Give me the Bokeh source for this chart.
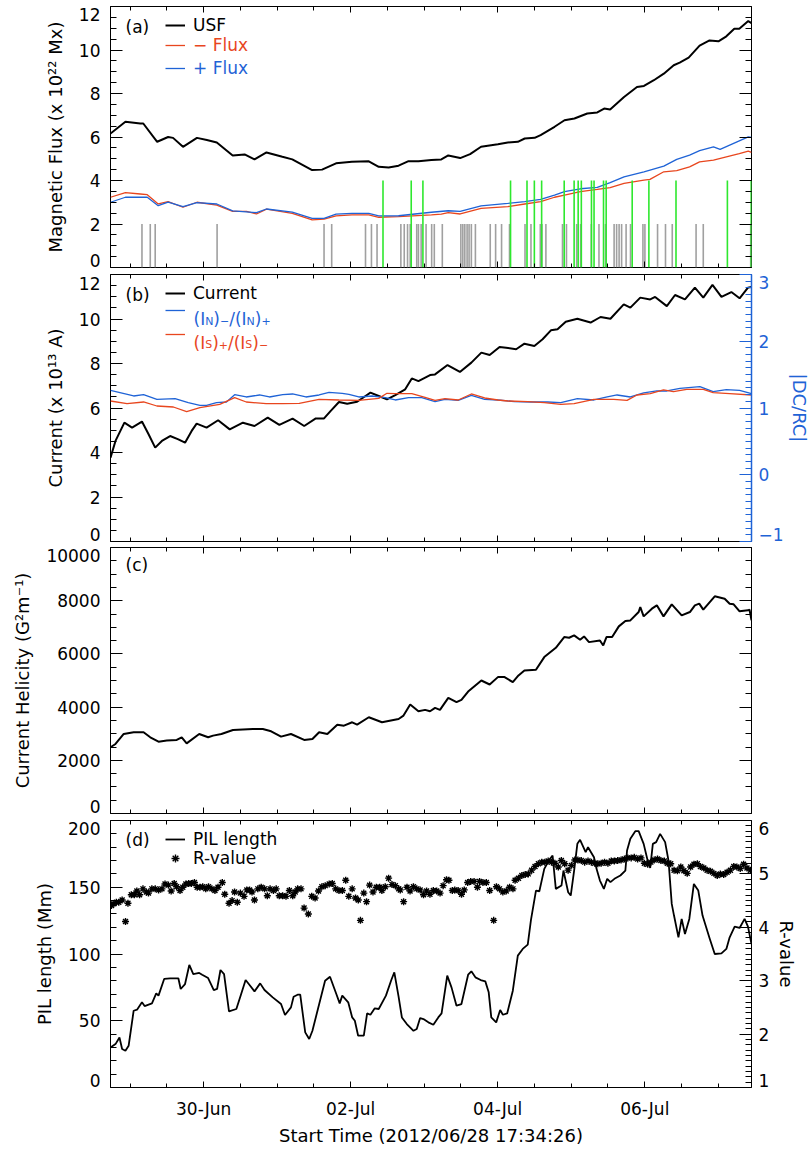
import numpy as np
import pandas as pd
from bokeh.plotting import figure
from bokeh.models import (Range1d, LinearAxis, DatetimeAxis, FixedTicker, DatetimeTickFormatter,
                          CustomJSTickFormatter, Label, Legend, LegendItem)
from bokeh.core.properties import value
from bokeh.layouts import column
from bokeh.embed import file_html
from bokeh.resources import INLINE

# ---------------- data (time in days since start unless noted) ----------------
START = pd.Timestamp("2012-06-28 17:34:26")
SPAN_DAYS = 8.72

usf_t = [0, 0.203, 0.405, 0.446, 0.635, 0.784, 0.851, 0.986, 1.176, 1.311, 1.446, 1.662, 1.824, 1.959, 2.122,
         2.338, 2.473, 2.743, 2.878, 3.068, 3.284, 3.514, 3.649, 3.784, 3.919, 4.054, 4.189, 4.365, 4.500, 4.595,
         4.757, 4.892, 5.041, 5.270, 5.405, 5.541, 5.635, 5.770, 5.851, 6.041, 6.176, 6.311, 6.486, 6.622, 6.716,
         6.797, 6.986, 7.162, 7.257, 7.392, 7.527, 7.662, 7.743, 7.865, 8.014, 8.149, 8.270, 8.378, 8.486, 8.554,
         8.676, 8.720]
usf = [6.16, 6.70, 6.62, 6.62, 5.78, 6.00, 5.96, 5.55, 5.96, 5.86, 5.75, 5.15, 5.20, 4.97, 5.29,
       5.09, 4.97, 4.48, 4.50, 4.79, 4.86, 4.88, 4.63, 4.60, 4.68, 4.89, 4.88, 4.94, 4.97, 5.15,
       5.03, 5.21, 5.55, 5.67, 5.75, 5.78, 5.93, 5.96, 6.09, 6.47, 6.77, 6.85, 7.08, 7.13, 7.31,
       7.26, 7.84, 8.30, 8.35, 8.61, 8.91, 9.30, 9.42, 9.65, 10.20, 10.44, 10.40, 10.63, 10.98, 10.98,
       11.33, 11.24]

neg_t = [0, 0.203, 0.405, 0.500, 0.649, 0.784, 0.986, 1.176, 1.446, 1.662, 1.851, 1.986, 2.122, 2.473, 2.743,
         2.905, 3.068, 3.284, 3.514, 3.649, 3.919, 4.365, 4.500, 4.595, 4.757, 5.041, 5.405, 5.635, 5.851, 6.041,
         6.176, 6.392, 6.622, 6.797, 6.986, 7.257, 7.338, 7.527, 7.703, 7.878, 8.014, 8.203, 8.378, 8.554, 8.676,
         8.720]
neg_flux = [3.23, 3.44, 3.38, 3.35, 2.92, 3.03, 2.77, 3.00, 2.87, 2.58, 2.58, 2.46, 2.68, 2.49, 2.19,
            2.22, 2.37, 2.42, 2.42, 2.31, 2.34, 2.42, 2.45, 2.52, 2.46, 2.72, 2.80, 2.92, 3.03, 3.23,
            3.33, 3.49, 3.59, 3.67, 3.87, 4.02, 4.05, 4.40, 4.45, 4.63, 4.86, 4.94, 5.09, 5.24, 5.35,
            5.29]

pos_t = [0, 0.203, 0.500, 0.649, 0.784, 0.986, 1.176, 1.446, 1.662, 1.986, 2.122, 2.473, 2.743, 2.905, 3.068,
         3.284, 3.514, 3.649, 3.919, 4.365, 4.595, 4.757, 5.041, 5.405, 5.635, 5.851, 6.041, 6.176, 6.392, 6.622,
         6.797, 6.986, 7.257, 7.527, 7.703, 7.878, 8.014, 8.203, 8.293, 8.523, 8.676, 8.720]
pos_flux = [3.00, 3.23, 3.23, 2.84, 3.01, 2.80, 2.98, 2.92, 2.60, 2.52, 2.69, 2.55, 2.26, 2.26, 2.45,
            2.49, 2.49, 2.37, 2.38, 2.54, 2.61, 2.58, 2.83, 2.95, 3.03, 3.13, 3.33, 3.49, 3.62, 3.68,
            3.90, 4.17, 4.40, 4.66, 4.97, 5.17, 5.37, 5.55, 5.43, 5.78, 6.01, 5.98]

# flare-like events (days); gray = small, green = large
gray_events = [0.428, 0.541, 0.608, 1.450, 2.905, 3.009, 3.469, 3.550, 3.626, 3.950, 3.996, 4.041, 4.077, 4.166,
               4.189, 4.226, 4.293, 4.369, 4.405, 4.514, 4.766, 4.793, 4.820, 4.851, 4.878, 4.909, 4.964, 5.166,
               5.239, 5.320, 5.428, 5.639, 5.720, 5.847, 5.869, 5.923, 6.149, 6.203, 6.342, 6.396, 6.541, 6.645,
               6.734, 6.851, 6.885, 6.919, 6.953, 7.014, 7.074, 7.243, 7.270, 7.442, 7.550, 7.642, 7.966, 8.064,
               8.709]
green_events = [3.707, 4.091, 4.250, 5.442, 5.666, 5.766, 5.865, 6.172, 6.307, 6.362, 6.405, 6.543, 6.578,
                6.707, 6.743, 7.097, 7.324, 7.693, 8.392, 8.716]

cur_t = [0, 0.068, 0.189, 0.293, 0.428, 0.518, 0.608, 0.699, 0.811, 0.923, 1.014, 1.104, 1.172, 1.307, 1.464,
         1.622, 1.801, 1.959, 2.139, 2.297, 2.477, 2.635, 2.793, 2.905, 2.996, 3.108, 3.220, 3.355, 3.469, 3.536,
         3.649, 3.761, 3.874, 4.009, 4.099, 4.189, 4.347, 4.415, 4.585, 4.753, 4.909, 5.045, 5.158, 5.293, 5.382,
         5.518, 5.631, 5.766, 5.878, 5.991, 6.081, 6.193, 6.351, 6.531, 6.666, 6.801, 6.982, 7.072, 7.207, 7.342,
         7.409, 7.568, 7.680, 7.815, 7.950, 8.064, 8.189, 8.311, 8.446, 8.558, 8.672, 8.720]
current = [3.77, 4.52, 5.34, 5.12, 5.39, 4.82, 4.22, 4.52, 4.74, 4.59, 4.44, 4.97, 5.30, 5.12, 5.45,
           5.04, 5.34, 5.19, 5.57, 5.24, 5.52, 5.19, 5.53, 5.53, 5.87, 6.27, 6.19, 6.28, 6.54, 6.69,
           6.54, 6.39, 6.58, 6.84, 7.33, 7.21, 7.48, 7.51, 7.93, 7.62, 8.04, 8.49, 8.38, 8.74, 8.71,
           8.64, 8.89, 8.79, 9.09, 9.49, 9.54, 9.88, 10.01, 9.84, 10.09, 10.01, 10.66, 10.51, 10.96, 10.88,
           10.99, 10.58, 11.08, 10.88, 11.41, 10.96, 11.53, 10.99, 11.21, 10.93, 11.41, 11.44]

ratio_n_t = [0, 0.315, 0.450, 0.631, 0.878, 1.058, 1.216, 1.307, 1.442, 1.577, 1.689, 1.847, 2.027, 2.162, 2.342,
             2.477, 2.658, 2.838, 2.973, 3.153, 3.243, 3.378, 3.558, 3.739, 3.874, 4.054, 4.234, 4.415, 4.550,
             4.730, 4.909, 5.090, 5.270, 5.496, 5.720, 5.946, 6.126, 6.351, 6.577, 6.757, 6.892, 7.072, 7.253,
             7.432, 7.568, 7.747, 8.018, 8.198, 8.378, 8.558, 8.720]
ratio_n = [1.265, 1.18, 1.20, 1.13, 1.14, 1.08, 1.04, 1.04, 1.08, 1.09, 1.20, 1.165, 1.195, 1.165, 1.20,
           1.21, 1.165, 1.195, 1.235, 1.22, 1.205, 1.165, 1.18, 1.155, 1.12, 1.155, 1.155, 1.095, 1.13,
           1.115, 1.19, 1.13, 1.12, 1.095, 1.09, 1.09, 1.08, 1.14, 1.12, 1.165, 1.195, 1.165, 1.225,
           1.255, 1.255, 1.295, 1.32, 1.245, 1.275, 1.265, 1.215]

ratio_s_t = [0, 0.225, 0.450, 0.631, 0.855, 1.036, 1.216, 1.486, 1.689, 1.847, 2.117, 2.342, 2.568, 2.838, 3.108,
             3.378, 3.649, 3.761, 3.874, 4.099, 4.279, 4.415, 4.550, 4.730, 4.909, 5.090, 5.270, 5.405, 5.676,
             5.901, 6.126, 6.307, 6.577, 6.847, 7.027, 7.162, 7.342, 7.523, 7.658, 7.838, 8.064, 8.198, 8.423,
             8.720]
ratio_s = [1.105, 1.065, 1.09, 1.03, 1.015, 0.945, 1.005, 1.055, 1.155, 1.09, 1.065, 1.065, 1.07, 1.13, 1.12,
           1.115, 1.145, 1.22, 1.215, 1.215, 1.16, 1.115, 1.14, 1.12, 1.21, 1.15, 1.12, 1.105, 1.095,
           1.08, 1.055, 1.065, 1.13, 1.13, 1.115, 1.195, 1.215, 1.27, 1.245, 1.28, 1.28, 1.23, 1.215,
           1.195]

hel_t = [0, 0.068, 0.180, 0.315, 0.450, 0.541, 0.653, 0.766, 0.901, 0.969, 1.036, 1.207, 1.328, 1.396, 1.509,
         1.666, 1.936, 2.072, 2.185, 2.320, 2.455, 2.635, 2.747, 2.838, 2.950, 3.085, 3.176, 3.288, 3.355, 3.514,
         3.693, 3.919, 3.986, 4.077, 4.189, 4.280, 4.347, 4.415, 4.482, 4.595, 4.707, 4.774, 4.865, 5.045, 5.158,
         5.270, 5.361, 5.473, 5.550, 5.631, 5.788, 5.901, 6.058, 6.172, 6.239, 6.307, 6.388, 6.442, 6.509, 6.658,
         6.703, 6.747, 6.824, 6.915, 7.004, 7.072, 7.185, 7.207, 7.253, 7.365, 7.432, 7.523, 7.635, 7.770, 7.882,
         7.950, 8.009, 8.064, 8.220, 8.355, 8.423, 8.477, 8.558, 8.672, 8.693, 8.720]
helicity = [2490, 2614, 2990, 3052, 3052, 2865, 2700, 2740, 2765, 2865, 2638, 2990, 2865, 2927, 2990,
            3140, 3178, 3178, 3090, 2890, 2990, 2765, 2800, 3052, 2990, 3340, 3303, 3429, 3340, 3618,
            3429, 3554, 3681, 4096, 3843, 3895, 3843, 3970, 3895, 4347, 4184, 4272, 4586, 5000, 4850,
            5127, 5127, 4937, 5189, 5377, 5403, 5880, 6229, 6632, 6607, 6695, 6532, 6657, 6443, 6506,
            6318, 6632, 6632, 7035, 7235, 7260, 7574, 7763, 7411, 7700, 7826, 7411, 7863, 7449, 7574,
            7826, 7888, 7663, 8165, 8076, 7888, 7863, 7600, 7638, 7663, 7260]

pil_t = [0, 0.068, 0.122, 0.158, 0.203, 0.247, 0.315, 0.361, 0.428, 0.464, 0.564, 0.622, 0.653, 0.730, 0.811,
         0.923, 0.955, 1.014, 1.072, 1.126, 1.207, 1.247, 1.328, 1.405, 1.450, 1.496, 1.545, 1.612, 1.712, 1.770,
         1.838, 1.892, 1.959, 2.036, 2.095, 2.207, 2.320, 2.374, 2.455, 2.491, 2.545, 2.581, 2.649, 2.703, 2.747,
         2.919, 2.986, 3.072, 3.118, 3.153, 3.234, 3.288, 3.324, 3.369, 3.446, 3.491, 3.536, 3.595, 3.649, 3.747,
         3.820, 3.861,
         3.919, 3.964, 4.031, 4.122, 4.166, 4.212, 4.257, 4.324, 4.392, 4.459, 4.504, 4.581, 4.639, 4.707, 4.774,
         4.865, 4.909, 4.964, 5.036, 5.099, 5.145, 5.180, 5.247, 5.301, 5.338, 5.396, 5.473, 5.541, 5.608, 5.676,
         5.720, 5.788, 5.834, 5.901, 5.969, 6.014, 6.058, 6.135, 6.162, 6.226, 6.261, 6.307, 6.351, 6.388, 6.464,
         6.496, 6.577, 6.612, 6.658, 6.712, 6.757, 6.801, 6.855, 6.936, 7.004, 7.027, 7.072, 7.139, 7.185, 7.253,
         7.307, 7.342, 7.378, 7.423, 7.477, 7.545, 7.591, 7.635, 7.666, 7.726, 7.770, 7.815, 7.874, 7.936, 7.996,
         8.054, 8.153, 8.220, 8.311, 8.378, 8.423, 8.491, 8.558, 8.626, 8.672, 8.720]
pil_length = [30, 32.5, 37.5, 28.8, 27.5, 31.3, 57.5, 58.3, 63.8, 61, 63, 70.5, 68.8, 81.3, 81.8,
              81.8, 73.8, 77.5, 91.8, 85, 85.8, 84.5, 82, 73, 73.8, 88, 85, 57, 58.8, 68.8,
              80.5, 76.8, 72, 78, 73, 67.5, 62.5, 54.3, 60, 68, 69.5, 69.5, 41.3, 36.3, 42.5,
              80, 83, 70, 63, 68.8, 63.8, 52.5, 50, 38.8, 38.8, 55.5, 54.5, 59.3, 58.8, 68.8,
              80.5, 86.3,
              68, 52.5, 47.5, 42.5, 43.8, 52, 51.3, 48.8, 47, 52.5, 55.5, 83.8, 75, 61.3, 62.5,
              84.5, 87, 82.5, 80.5, 79.5, 71.3, 52.5, 48.8, 58, 54.5, 55.5, 72.5, 98.8, 103.8, 107,
              125.5, 147.5, 147, 163.8, 170.5, 173.8, 148.8, 151.3, 162.5, 146.3, 143.8, 162.5, 182.5, 185.5, 176.3,
              180, 172.5, 163.8, 155, 148.8, 156.3, 153.8, 156.3, 158.8, 162.5, 177.5, 186.3, 192, 192, 182.5,
              170, 164.5, 182.5, 183.8, 190, 183.8, 170, 137.5, 128.8, 112.5, 126.3, 115, 126.3, 152.5, 147.5,
              128.8, 111.3, 100, 100.5, 103.8, 112.5, 120.5, 119.5, 126.3, 120.5, 107.5]

# R-value: (hours since start, value)
r_value = [
    (0.3, 4.41), (1.1, 4.44), (1.9, 4.47), (2.7, 4.47), (3.8, 4.51), (4.9, 4.11), (5.7, 4.45), (6.8, 4.61),
    (7.8, 4.61), (8.6, 4.68), (9.5, 4.61), (10.6, 4.72), (11.7, 4.66), (12.4, 4.64), (13.5, 4.72), (14.6, 4.72),
    (15.7, 4.70), (16.8, 4.72), (17.8, 4.81), (18.9, 4.79), (19.8, 4.68), (20.8, 4.82), (21.6, 4.76), (22.7, 4.69),
    (23.6, 4.75), (24.6, 4.81), (25.5, 4.82), (26.4, 4.82), (27.4, 4.84), (28.3, 4.75), (29.2, 4.75), (30.1, 4.76),
    (31.1, 4.72), (32.0, 4.76), (33.1, 4.72), (34.1, 4.69), (35.1, 4.75), (36.5, 4.84), (37.3, 4.62), (38.7, 4.45),
    (39.7, 4.50), (40.5, 4.66), (41.4, 4.47), (42.4, 4.64), (43.6, 4.58), (44.5, 4.70), (45.4, 4.70), (46.2, 4.66),
    (47.0, 4.51), (48.1, 4.72), (49.2, 4.75), (50.3, 4.72), (51.2, 4.59), (52.1, 4.72), (53.2, 4.69), (54.1, 4.72),
    (55.1, 4.59), (56.2, 4.59), (57.3, 4.58), (58.4, 4.69), (59.5, 4.59), (60.3, 4.66), (61.1, 4.72), (62.2, 4.72),
    (63.2, 4.36), (64.6, 4.25), (65.7, 4.58), (66.8, 4.55), (67.9, 4.68), (69.0, 4.76), (70.1, 4.78), (71.4, 4.81),
    (72.4, 4.82), (73.5, 4.72), (74.6, 4.69), (75.7, 4.69), (76.8, 4.88), (77.8, 4.58), (78.9, 4.72), (80.0, 4.55),
    (80.9, 4.51), (81.6, 4.13), (82.7, 4.64), (83.6, 4.48), (84.6, 4.79), (85.7, 4.66), (86.8, 4.75), (87.9, 4.75),
    (88.6, 4.69), (89.7, 4.76), (90.8, 4.92), (91.9, 4.80), (93.0, 4.78), (94.1, 4.72),
    (94.6, 4.70), (95.7, 4.48), (96.8, 4.75), (97.8, 4.68), (98.9, 4.76), (100.0, 4.72), (101.1, 4.70),
    (102.2, 4.61), (103.2, 4.68), (104.3, 4.62), (105.4, 4.69), (106.5, 4.68), (107.6, 4.64), (108.6, 4.78),
    (109.7, 4.89), (110.5, 4.88), (111.6, 4.69), (112.4, 4.70), (113.5, 4.69), (114.6, 4.62), (115.5, 4.70),
    (116.6, 4.84), (117.6, 4.86), (118.7, 4.86), (119.8, 4.75), (120.5, 4.86), (121.6, 4.84), (122.7, 4.84),
    (123.8, 4.69), (125.1, 4.13), (126.0, 4.76), (127.0, 4.72), (128.1, 4.66), (129.2, 4.68), (130.3, 4.75),
    (131.4, 4.72), (132.1, 4.88), (133.2, 4.92), (134.3, 4.97), (135.4, 4.99), (136.4, 5.00), (137.5, 5.07),
    (138.6, 5.14), (139.7, 5.19), (140.8, 5.22), (141.8, 5.22), (142.9, 5.24), (144.0, 5.22), (145.1, 5.20),
    (146.2, 5.13), (147.2, 5.25), (148.3, 5.19), (149.4, 5.07), (150.5, 5.16), (151.6, 5.26), (152.6, 5.26),
    (153.7, 5.25), (154.8, 5.22), (155.9, 5.24), (157.0, 5.22), (158.1, 5.20), (159.1, 5.19), (160.2, 5.20),
    (161.3, 5.22), (162.4, 5.20), (163.5, 5.24), (164.5, 5.24), (165.6, 5.25), (166.7, 5.26), (167.8, 5.28),
    (168.9, 5.30), (170.0, 5.30), (171.0, 5.31), (172.1, 5.28), (173.2, 5.30), (174.3, 5.20), (175.4, 5.18),
    (176.4, 5.22), (177.5, 5.26), (178.6, 5.28), (179.7, 5.25), (180.8, 5.24), (181.8, 5.20), (182.9, 5.19),
    (184.0, 5.07), (185.1, 5.06), (186.2, 5.13), (187.2, 5.06), (188.3, 5.01), (189.4, 5.13), (190.5, 5.18),
    (191.6, 5.19), (192.6, 5.14), (193.7, 5.11), (194.8, 5.07), (195.9, 5.05), (197.0, 5.01), (198.1, 4.97),
    (199.1, 5.00), (200.2, 4.99), (201.3, 5.03), (202.4, 5.07), (203.5, 5.14), (204.5, 5.13), (205.6, 5.10),
    (206.7, 5.18), (207.8, 5.11), (208.9, 5.07)]

# ---------------- styling ----------------
FONT = "DejaVu Sans"
TICK_SIZE = "17px"
TITLE_SIZE = "18px"
RED = "#e8461e"
BLUE = "#1f63d6"
GREEN = "#2ee82e"
GRAY = "#a0a0a0"
GRAY_TOP = 2.0
GREEN_TOP = 4.0


def to_dt(vals, unit="D"):
    return (START + pd.to_timedelta(np.asarray(vals, dtype=float), unit=unit)).to_numpy()


def ms(ts):
    return ts.value / 1e6


X_START = ms(START)
X_END = ms(START + pd.Timedelta(days=SPAN_DAYS))
xr = Range1d(X_START, X_END)

xticker = FixedTicker(ticks=[ms(t) for t in pd.date_range("2012-06-30", "2012-07-06", freq="2D")],
                      minor_ticks=[ms(t) for t in pd.date_range("2012-06-29", "2012-07-07", freq="12h")])
xfmt = DatetimeTickFormatter(days="%d-%b", months="%d-%b", hours="%d-%b", hourmin="%d-%b",
                             minutes="%d-%b", years="%d-%b")
blank = CustomJSTickFormatter(code="return ''")


def style_axis(ax, major_in, minor_in, color="black"):
    ax.major_tick_in = major_in
    ax.major_tick_out = 0
    ax.minor_tick_in = minor_in
    ax.minor_tick_out = 0
    ax.major_tick_line_color = color
    ax.minor_tick_line_color = color
    ax.axis_line_color = None
    ax.major_label_text_font = FONT
    ax.major_label_text_font_size = TICK_SIZE
    ax.major_label_text_color = color
    ax.axis_label_text_font = FONT
    ax.axis_label_text_font_size = TITLE_SIZE
    ax.axis_label_text_font_style = "normal"
    ax.axis_label_text_color = color


def hide_labels(ax):
    ax.formatter = blank
    ax.major_label_text_font_size = "0px"
    ax.major_label_standoff = 0


def make_fig(height, top, bottom, yr):
    p = figure(width=812, height=height, x_range=xr, y_range=yr, output_backend="svg",
               toolbar_location=None, tools="", x_axis_location=None, y_axis_location=None,
               min_border_left=110, min_border_right=57, min_border_top=top, min_border_bottom=bottom,
               background_fill_color="white", border_fill_color="white")
    p.outline_line_color = "black"
    p.outline_line_width = 1
    p.grid.visible = False
    return p


def add_x_axes(p, with_labels=False):
    for loc in ("above", "below"):
        ax = DatetimeAxis(ticker=xticker, formatter=xfmt)
        style_axis(ax, 6, 4)
        if loc == "below" and with_labels:
            ax.major_label_standoff = 11
            ax.axis_label = "Start Time (2012/06/28 17:34:26)"
            ax.axis_label_standoff = 3
        else:
            hide_labels(ax)
        p.add_layout(ax, loc)


def add_y_axis(p, loc, ticks, minor, frame_h, lo_hi, title=None, color="black", range_name="default",
               label_standoff=10, title_standoff=10, show_labels=True, shift_top=7.5, shift_bottom=7.5,
               axis_line=False):
    # axis 1: the tick marks (sits on the frame edge, takes no room)
    tk = LinearAxis(y_range_name=range_name, ticker=FixedTicker(ticks=ticks, minor_ticks=minor))
    style_axis(tk, 12, 6, color)
    if axis_line:
        tk.axis_line_color = color
        tk.axis_line_width = 1.5
    hide_labels(tk)
    p.add_layout(tk, loc)
    if not show_labels:
        return
    # axis 2: the tick labels, with the two end labels nudged into the panel (IDL style)
    lo, hi = lo_hi
    per_px = (hi - lo) / frame_h
    step = ticks[1] - ticks[0]
    label_pos = [ticks[0] + shift_bottom * per_px] + list(ticks[1:-1]) + [ticks[-1] - shift_top * per_px]
    lb = LinearAxis(y_range_name=range_name, ticker=FixedTicker(ticks=label_pos, minor_ticks=[]))
    style_axis(lb, 0, 0, color)
    lb.major_tick_line_color = None
    lb.minor_tick_line_color = None
    lb.major_label_standoff = label_standoff
    lb.formatter = CustomJSTickFormatter(args=dict(step=step), code="""
        const v = Math.round(tick / step) * step;
        return v < 0 ? "\u2212" + Math.abs(v) : String(v);
    """)
    if title:
        lb.axis_label = title
        lb.axis_label_standoff = title_standoff
    p.add_layout(lb, loc)


def add_text(p, text, dx, dy, color="black", size=TICK_SIZE, baseline="middle"):
    p.add_layout(Label(x=X_START, y=p.y_range.end, x_offset=dx, y_offset=-dy, text=text,
                       text_color=color, text_font=FONT, text_font_size=size,
                       text_baseline=baseline, text_align="left"))


def add_legend(p, renderer, label, color, dx, dy, frame_h):
    lg = Legend(items=[LegendItem(label=value(label), renderers=[renderer])],
                location=(dx, frame_h - dy - 10), padding=0, margin=0, spacing=0,
                border_line_alpha=0, background_fill_alpha=0,
                glyph_width=20, glyph_height=20, label_height=20, label_standoff=8,
                label_text_font=FONT, label_text_font_size=TICK_SIZE, label_text_color=color,
                label_text_baseline="middle")
    p.add_layout(lg)


ADV = {"(": 0.390, ")": 0.390, "I": 0.295, "/": 0.337, "N": 0.748, "S": 0.635, "+": 0.838, "\u2212": 0.838}


def add_rich(p, pieces, dx, dy_base, color):
    x = dx
    for txt, sub in pieces:
        size = 11 if sub else 17
        add_text(p, txt, x, dy_base + (2.0 if sub else 0.0), color, f"{size}px", baseline="alphabetic")
        x += sum(ADV[c] for c in txt) * size


# frame heights and canvas borders (top, bottom) so that the panels sit on the reference grid
FA, FB, FC, FD = 261, 267, 266, 267
flux_ticks = [0, 2, 4, 6, 8, 10, 12]
flux_minor = [i * 0.5 for i in range(25)]

# ---------------- panel (a) ----------------
pa = make_fig(6 + FA + 4, 6, 4, Range1d(0, 12))
add_x_axes(pa)
add_y_axis(pa, "left", flux_ticks, flux_minor, FA, (0, 12), title="Magnetic Flux (x 10\u00b2\u00b2 Mx)",
           shift_top=8)
add_y_axis(pa, "right", flux_ticks, flux_minor, FA, (0, 12), show_labels=False)
r_usf = pa.line(to_dt(usf_t), usf, line_color="black", line_width=2)
r_neg = pa.line(to_dt(neg_t), neg_flux, line_color=RED, line_width=1.3)
r_pos = pa.line(to_dt(pos_t), pos_flux, line_color=BLUE, line_width=1.3)
gx = to_dt(gray_events)
pa.segment(x0=gx, y0=np.zeros(len(gx)), x1=gx, y1=np.full(len(gx), GRAY_TOP), line_color=GRAY, line_width=1.6)
grx = to_dt(green_events)
pa.segment(x0=grx, y0=np.zeros(len(grx)), x1=grx, y1=np.full(len(grx), GREEN_TOP), line_color=GREEN,
           line_width=1.6)
add_text(pa, "(a)", 15, 20)
add_legend(pa, r_usf, "USF", "black", 55, 19, FA)
add_legend(pa, r_neg, "\u2212 Flux", RED, 55, 38.5, FA)
add_legend(pa, r_pos, "+ Flux", BLUE, 55, 61.5, FA)

# ---------------- panel (b) ----------------
pb = make_fig(3 + FB + 3, 3, 3, Range1d(0, 12))
pb.extra_y_ranges = {"ratio": Range1d(-1, 3)}
add_x_axes(pb)
add_y_axis(pb, "left", flux_ticks, flux_minor, FB, (0, 12), title="Current (x 10\u00b9\u00b3 A)",
           shift_top=8.5)
add_y_axis(pb, "right", [-1, 0, 1, 2, 3], [-1 + i * 0.1 for i in range(41)], FB, (-1, 3),
           title="|DC/RC|", color=BLUE, range_name="ratio", label_standoff=7, title_standoff=2,
           axis_line=True)
r_cur = pb.line(to_dt(cur_t), current, line_color="black", line_width=2)
r_rn = pb.line(to_dt(ratio_n_t), ratio_n, line_color=BLUE, line_width=1.3, y_range_name="ratio")
r_rs = pb.line(to_dt(ratio_s_t), ratio_s, line_color=RED, line_width=1.3, y_range_name="ratio")
add_text(pb, "(b)", 15, 20)
add_legend(pb, r_cur, "Current", "black", 55, 19, FB)
add_legend(pb, r_rn, " ", BLUE, 55, 36, FB)
add_legend(pb, r_rs, " ", RED, 55, 59.5, FB)
add_rich(pb, [("(I", False), ("N", True), (")", False), ("\u2212", True), ("/(I", False), ("N", True),
              (")", False), ("+", True)], 83, 44.5, BLUE)
add_rich(pb, [("(I", False), ("S", True), (")", False), ("+", True), ("/(I", False), ("S", True),
              (")", False), ("\u2212", True)], 83, 68, RED)

# ---------------- panel (c) ----------------
hel_ticks = [0, 2000, 4000, 6000, 8000, 10000]
hel_minor = [i * 500 for i in range(21)]
pc = make_fig(3 + FC + 3, 3, 3, Range1d(0, 10000))
add_x_axes(pc)
add_y_axis(pc, "left", hel_ticks, hel_minor, FC, (0, 10000), title="Current Helicity (G\u00b2m\u207b\u00b9)")
add_y_axis(pc, "right", hel_ticks, hel_minor, FC, (0, 10000), show_labels=False)
pc.line(to_dt(hel_t), helicity, line_color="black", line_width=2)
add_text(pc, "(c)", 15, 17.5)

# ---------------- panel (d) ----------------
pd_ = make_fig(4 + FD + 62, 4, 62, Range1d(0, 200))
pd_.extra_y_ranges = {"r": Range1d(1, 6)}
add_x_axes(pd_, with_labels=True)
add_y_axis(pd_, "left", [0, 50, 100, 150, 200], [i * 10 for i in range(21)], FD, (0, 200),
           title="PIL length (Mm)")
add_y_axis(pd_, "right", [1, 2, 3, 4, 5, 6], [1 + i * 0.1 for i in range(51)], FD, (1, 6),
           title="R-value", range_name="r", label_standoff=7, title_standoff=4)
r_pil = pd_.line(to_dt(pil_t), pil_length, line_color="black", line_width=1.8)
r_h = [h for h, _ in r_value]
r_v = [v for _, v in r_value]
r_r = pd_.scatter(to_dt(r_h, unit="h"), r_v, marker="asterisk", size=7, line_color="black", line_width=1.4,
                  y_range_name="r")
add_text(pd_, "(d)", 15, 19)
add_legend(pd_, r_pil, "PIL length", "black", 55, 19, FD)
add_legend(pd_, r_r, "R-value", "black", 55, 38, FD)

layout = column(pa, pb, pc, pd_, spacing=0)
open("out.html", "w").write(file_html(layout, INLINE))
